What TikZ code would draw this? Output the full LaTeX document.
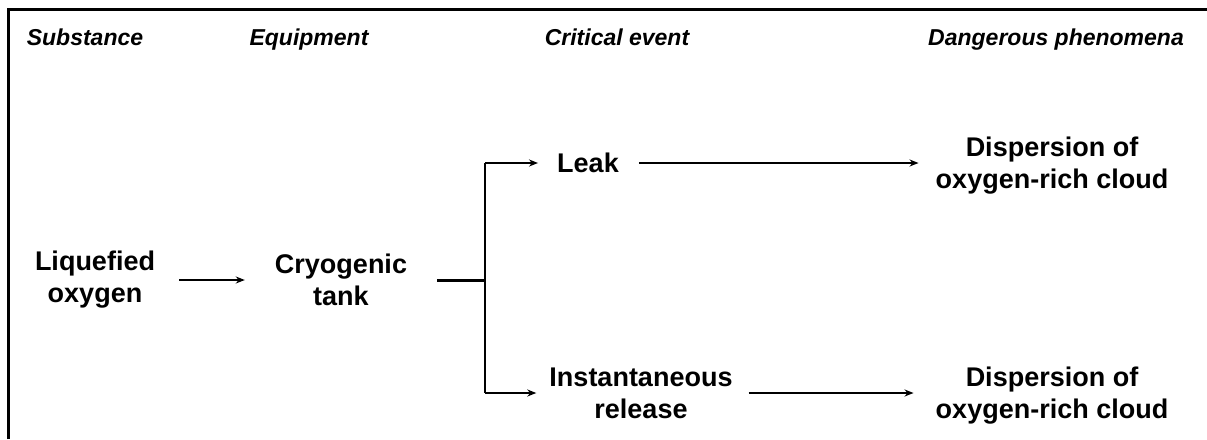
\documentclass[tikz,border=0pt]{standalone}
\usepackage{fontspec}
\setmainfont{Liberation Sans}
\usetikzlibrary{arrows.meta}
\begin{document}
\begin{tikzpicture}[x=1pt,y=-1pt,
  head/.style={font=\fontsize{23}{27}\selectfont\bfseries\itshape, anchor=base, inner sep=0},
  item/.style={font=\fontsize{27}{32}\selectfont\bfseries, align=center, inner sep=0},
  arr/.style={line width=2pt, -{Stealth[length=9pt,width=7pt]}},
  conn/.style={line width=2pt},
  thickconn/.style={line width=3pt}]
\useasboundingbox (0,0) rectangle (1207,439);
\draw[line width=3pt] (8,439) -- (8,9) -- (1207,9);
\node[head] (h1) at (85,45) {Substance};
\node[head] (h2) at (309,45) {Equipment};
\node[head] (h3) at (617,45) {Critical event};
\node[head] (h4) at (1056,45) {Dangerous phenomena};
\node[item] (liq) at (95,280) {Liquefied\\oxygen};
\node[item] (cryo) at (341,280) {Cryogenic\\tank};
\node[item] (leak) at (588,163) {Leak};
\node[item] (inst) at (641,393) {Instantaneous\\release};
\node[item] (d1) at (1052,166) {Dispersion of\\oxygen-rich cloud};
\node[item] (d2) at (1052,396) {Dispersion of\\oxygen-rich cloud};
\coordinate (j) at (485,280);
\coordinate (jt) at (485,163);
\coordinate (jb) at (485,393);
\draw[arr] ([xshift=24pt]liq.east |- 0,280) -- ([xshift=-30pt]cryo.west |- 0,280);
\draw[thickconn] ([xshift=30pt]cryo.east |- j) -- (j);
\draw[conn] (jt) -- (jb);
\draw[arr] (jt) -- ([xshift=-19pt]leak.west |- jt);
\draw[arr] (jb) -- ([xshift=-13pt]inst.west |- jb);
\draw[arr] ([xshift=20pt]leak.east) -- ([xshift=-17pt]d1.west |- leak.east);
\draw[arr] ([xshift=16pt]inst.east |- jb) -- ([xshift=-22pt]d2.west |- jb);
\end{tikzpicture}
\end{document}
